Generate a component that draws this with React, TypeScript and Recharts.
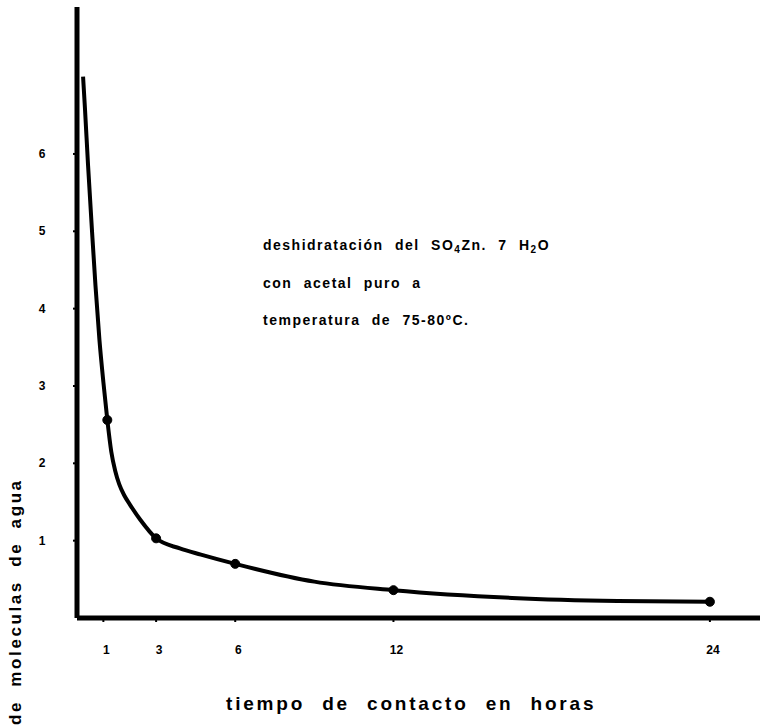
import { ComposedChart, Line, XAxis, YAxis } from "recharts";

// trace of the drawn curve (hours, molecules of water)
const curveHours = [0.23, 0.3, 0.42, 0.57, 0.7, 0.85, 1.0, 1.15, 1.3, 1.45, 1.6, 1.8, 2.0, 2.4, 3, 3.9, 4.7, 6, 9, 12, 16.5, 20.5, 24];
const curveValues = [7.0, 6.6, 5.85, 5.0, 4.3, 3.6, 3.05, 2.56, 2.15, 1.9, 1.73, 1.58, 1.47, 1.27, 1.03, 0.9, 0.82, 0.7, 0.47, 0.36, 0.26, 0.22, 0.21];

// measured points
const dotHours = [1.15, 3, 6, 12, 24];
const dotValues = [2.56, 1.03, 0.7, 0.36, 0.21];

const xTicks = [1, 3, 6, 12, 24];
const yTicks = [1, 2, 3, 4, 5, 6];

const curve = curveHours.map((h, i) => ({ x: h, y: curveValues[i] }));
const dots = dotHours.map((h, i) => ({ x: h, y: dotValues[i] }));

const font = "'Liberation Sans', Arial, sans-serif";

const XTick = ({ x, y, payload }: any) => (
  <text x={x + 3} y={y + 27} textAnchor="middle" dominantBaseline="central"
    fontFamily={font} fontWeight="bold" fontSize={12} fill="#000">
    {payload.value}
  </text>
);

const YTick = ({ x, y, payload }: any) => (
  <text x={x - 30} y={y} textAnchor="middle" dominantBaseline="central"
    fontFamily={font} fontWeight="bold" fontSize={12} fill="#000">
    {payload.value}
  </text>
);

export default function App() {
  return (
    <div style={{ position: "absolute", left: 0, top: 0, width: 760, height: 728, background: "#fff" }}>
      <ComposedChart width={760} height={728} margin={{ top: 7, right: 0, left: 0, bottom: 0 }}>
        <XAxis
          type="number"
          dataKey="x"
          domain={[0, 25.9]}
          ticks={xTicks}
          allowDataOverflow
          height={110}
          axisLine={{ stroke: "#000", strokeWidth: 5 }}
          tickLine={{ stroke: "#000", strokeWidth: 2 }}
          tickSize={4}
          tickMargin={1}
          tick={<XTick />}
        />
        <YAxis
          type="number"
          domain={[0, 7.9]}
          ticks={yTicks}
          allowDataOverflow
          width={77}
          axisLine={{ stroke: "#000", strokeWidth: 5 }}
          tickLine={{ stroke: "#000", strokeWidth: 2 }}
          tickSize={4}
          tickMargin={1}
          tick={<YTick />}
        />
        <Line data={curve} dataKey="y" type="monotone" stroke="#000" strokeWidth={4}
          dot={false} isAnimationActive={false} />
        <Line data={dots} dataKey="y" stroke="none"
          dot={{ r: 4.5, fill: "#000", stroke: "#000", strokeWidth: 1 }} isAnimationActive={false} />
      </ComposedChart>
      <svg width={760} height={728} style={{ position: "absolute", left: 0, top: 0, pointerEvents: "none" }}>
        <g fontFamily={font} fontWeight="bold" fontSize={14} fill="#000" letterSpacing={1.5} wordSpacing={6}>
          <text x={263} y={245} dominantBaseline="central">
            deshidratación del SO<tspan fontSize={10} dy={4}>4</tspan><tspan dy={-4}>Zn. 7 H</tspan>
            <tspan fontSize={10} dy={4}>2</tspan><tspan dy={-4}>O</tspan>
          </text>
          <text x={263} y={283} dominantBaseline="central">con acetal puro a</text>
          <text x={263} y={320} dominantBaseline="central">temperatura de 75-80ºC.</text>
        </g>
        <text x={226} y={703} dominantBaseline="central" fontFamily={font} fontWeight="bold"
          fontSize={19} letterSpacing={2.8} wordSpacing={9} fill="#000">
          tiempo de contacto en horas
        </text>
        <text x={15} y={725} transform="rotate(-90 15 725)" textAnchor="start" dominantBaseline="central"
          fontFamily={font} fontWeight="bold" fontSize={17} letterSpacing={2.6} wordSpacing={6} fill="#000">
          de moleculas de agua
        </text>
      </svg>
    </div>
  );
}
